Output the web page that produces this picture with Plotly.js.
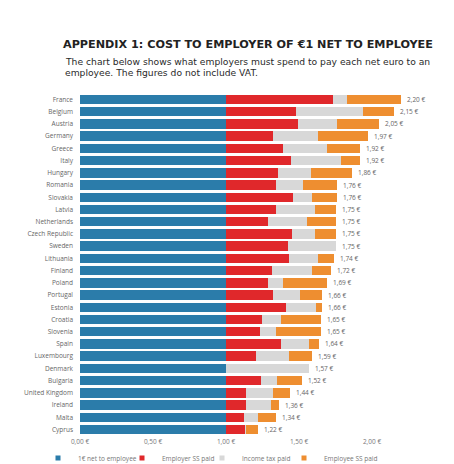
<!DOCTYPE html>
<html>
<head>
<meta charset="utf-8">
<script src="https://cdn.plot.ly/plotly-3.0.1.min.js"></script>
<style>html,body{margin:0;padding:0;background:#fff;}#chart{width:454px;height:464px;}</style>
</head>
<body>
<div id="chart"></div>
<script>
const countries = ["France","Belgium","Austria","Germany","Greece","Italy","Hungary","Romania","Slovakia","Latvia","Netherlands","Czech Republic","Sweden","Lithuania","Finland","Poland","Portugal","Estonia","Croatia","Slovenia","Spain","Luxembourg","Denmark","Bulgaria","United Kingdom","Ireland","Malta","Cyprus"];
const netToEmployee = [1,1,1,1,1,1,1,1,1,1,1,1,1,1,1,1,1,1,1,1,1,1,1,1,1,1,1,1];
const employerSS = [0.735,0.48,0.49,0.32,0.39,0.445,0.355,0.34,0.46,0.34,0.285,0.45,0.425,0.43,0.315,0.29,0.32,0.41,0.245,0.23,0.38,0.205,0,0.24,0.14,0.135,0.125,0.13];
const incomeTax = [0.095,0.46,0.27,0.31,0.30,0.34,0.225,0.19,0.13,0.27,0.27,0.16,0.325,0.20,0.275,0.10,0.19,0.205,0.13,0.11,0.19,0.225,0.57,0.11,0.18,0.175,0.095,0.01];
const employeeSS = [0.37,0.21,0.29,0.34,0.23,0.135,0.28,0.23,0.17,0.14,0.195,0.14,0,0.11,0.13,0.30,0.15,0.045,0.275,0.31,0.07,0.16,0,0.17,0.12,0.05,0.12,0.08];
const totalLabels = ["2,20 €","2,15 €","2,05 €","1,97 €","1,92 €","1,92 €","1,86 €","1,76 €","1,76 €","1,75 €","1,75 €","1,75 €","1,75 €","1,74 €","1,72 €","1,69 €","1,66 €","1,66 €","1,65 €","1,65 €","1,64 €","1,59 €","1,57 €","1,52 €","1,44 €","1,36 €","1,34 €","1,22 €"];
const seriesNames = ["1€ net to employee","Employer SS paid","Income tax paid","Employee SS paid"];
const seriesColors = ["#2B7CAA","#E0282B","#D8D8D8","#EE8E30"];
const xTickVals = [0,0.5,1,1.5,2];
const xTickText = ["0,00 €","0,50 €","1,00 €","1,50 €","2,00 €"];
const titleText = "APPENDIX 1: COST TO EMPLOYER OF €1 NET TO EMPLOYEE";
const subtitleLines = ["The chart below shows what employers must spend to pay each net euro to an","employee. The figures do not include VAT."];

const seriesValues = [netToEmployee, employerSS, incomeTax, employeeSS];
const FONT = "'Open Sans', sans-serif";
const W = 454, H = 464;
const legendKeys = ['legend', 'legend2', 'legend3', 'legend4'];
const legendTextStarts = [78, 162, 242, 324];

const traces = seriesValues.map((vals, i) => ({
  type: 'bar', orientation: 'h', x: vals, y: countries, name: seriesNames[i],
  marker: {color: seriesColors[i], line: {width: 0}}, showlegend: false, hoverinfo: 'x+y+name'
}));
seriesNames.forEach((n, i) => traces.push({
  type: 'scatter', mode: 'markers', x: [null], y: [null], name: n, legend: legendKeys[i],
  marker: {symbol: 'square', size: 5, color: seriesColors[i]}, showlegend: true
}));

const totals = countries.map((c, i) => seriesValues.reduce((s, arr) => s + arr[i], 0));
const annotations = countries.map((c, i) => ({
  xref: 'x', yref: 'y', x: totals[i], y: c, text: totalLabels[i], showarrow: false,
  xanchor: 'left', xshift: 4, font: {family: FONT, size: 6.5, color: '#666'}
}));
const plotL = 80, plotR = 9, plotT = 93, plotB = 28;
const pw = W - plotL - plotR, ph = H - plotT - plotB;
subtitleLines.forEach((t, k) => annotations.push({
  xref: 'paper', yref: 'paper', x: (63 - plotL) / pw, y: (H - plotB - (61.5 + k * 11.2)) / ph,
  xanchor: 'left', yanchor: 'middle', text: t, showarrow: false, align: 'left',
  font: {family: "'DejaVu Sans', sans-serif", size: 9.2, color: '#2a2a2a'}
}));

const layout = {
  width: W, height: H,
  margin: {l: plotL, r: plotR, t: plotT, b: plotB, pad: 0},
  paper_bgcolor: '#fff', plot_bgcolor: '#fff',
  barmode: 'stack', bargap: 0.22,
  font: {family: FONT},
  title: {text: titleText, font: {family: "'DejaVu Sans', sans-serif", size: 11.2, weight: 'bold', color: '#222'},
    xref: 'container', yref: 'container', x: 63 / W, xanchor: 'left', y: 1 - 44 / H, yanchor: 'middle'},
  xaxis: {range: [0, 2.5], tickvals: xTickVals, ticktext: xTickText, showgrid: false, zeroline: false,
    showline: false, ticks: '', tickfont: {family: FONT, size: 6.5, color: '#777'}},
  yaxis: {autorange: 'reversed', type: 'category', showgrid: false, zeroline: false, showline: false, ticks: '',
    ticklabelstandoff: 6, tickfont: {family: FONT, size: 6.5, color: '#666'}},
  annotations: annotations
};
legendKeys.forEach((k, i) => {
  layout[k] = {orientation: 'h', xref: 'container', yref: 'container', x: (legendTextStarts[i] - 40) / W, xanchor: 'left',
    y: 6 / H, yanchor: 'middle', font: {family: FONT, size: 6.5, color: '#777'}, itemwidth: 30,
    bgcolor: 'rgba(0,0,0,0)', borderwidth: 0};
});
Plotly.newPlot('chart', traces, layout, {displayModeBar: false, staticPlot: true});
</script>
</body>
</html>
